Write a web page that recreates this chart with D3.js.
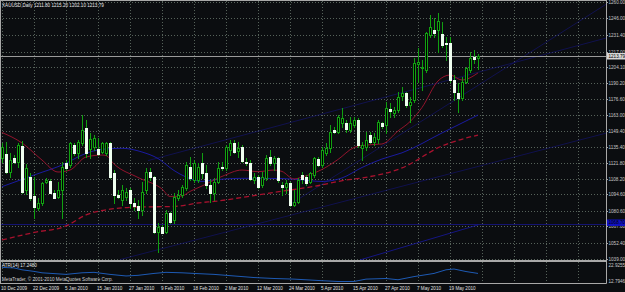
<!DOCTYPE html>
<html>
<head>
<meta charset="utf-8">
<script src="https://cdn.jsdelivr.net/npm/d3@7"></script>
<style>
html, body { margin: 0; padding: 0; background: #0b0d10; }
svg { display: block; }
text { font-family: "Liberation Sans", Arial, sans-serif; font-size: 4.6px; }
</style>
</head>
<body>
<svg></svg>
<script>
const width = 625;
const height = 292;

const symbol = 'XAUUSD,Daily';
const lastQuote = [1211.80, 1215.20, 1202.10, 1213.79];

// bar 0 = 10 Dec 2009, one bar per trading day
const open = [
	1125.5, 1129.0, 1114.1, 1125.5, 1122.7, 1136.2, 1098.3, 1109.2, 1093.2, 1082.8,
	1086.9, 1105.5, 1106.1, 1096.0, 1092.6, 1098.3, 1121.8, 1119.8, 1137.0, 1129.8,
	1138.4, 1151.3, 1133.3, 1135.6, 1133.3, 1131.3, 1129.8, 1138.4, 1113.2, 1094.0,
	1089.7, 1092.6, 1098.3, 1086.9, 1084.6, 1081.1, 1098.3, 1114.1, 1109.8, 1062.5,
	1066.2, 1062.5, 1078.3, 1072.5, 1091.2, 1094.0, 1099.7, 1118.4, 1106.9, 1107.0,
	1121.2, 1112.7, 1102.6, 1095.5, 1105.5, 1118.4, 1117.0, 1132.7, 1139.0, 1131.9,
	1135.6, 1122.7, 1121.2, 1106.9, 1109.2, 1103.0, 1108.3, 1126.4, 1121.2, 1125.5,
	1102.6, 1101.2, 1104.6, 1085.4, 1088.3, 1111.2, 1109.2, 1105.5, 1111.2, 1124.7,
	1119.8, 1129.8, 1134.1, 1149.9, 1148.5, 1155.6, 1155.6, 1149.9, 1154.2, 1158.5,
	1134.1, 1135.6, 1145.6, 1139.9, 1142.0, 1155.7, 1154.2, 1167.7, 1164.3, 1167.1,
	1179.2, 1181.5, 1171.4, 1175.7, 1206.7, 1203.0, 1201.5, 1231.6, 1235.9, 1235.9,
	1232.2, 1225.0, 1224.5, 1192.9, 1181.5, 1177.2, 1191.5, 1201.5, 1212.4, 1211.80
];
const high = [
	1138.4, 1139.9, 1129.8, 1128.4, 1139.0, 1140.7, 1121.0, 1112.7, 1109.8, 1091.2,
	1105.5, 1108.3, 1107.5, 1098.3, 1105.5, 1122.7, 1124.1, 1139.9, 1138.4, 1141.3,
	1162.8, 1158.5, 1147.0, 1145.6, 1142.7, 1139.9, 1139.9, 1139.9, 1115.5, 1098.3,
	1102.6, 1099.7, 1099.7, 1091.2, 1089.7, 1105.5, 1117.0, 1117.0, 1110.4, 1069.7,
	1068.2, 1081.1, 1079.7, 1095.5, 1098.3, 1102.6, 1122.7, 1127.0, 1124.1, 1121.2,
	1129.8, 1119.8, 1106.9, 1108.3, 1122.7, 1122.7, 1137.0, 1141.3, 1141.3, 1139.9,
	1137.0, 1125.5, 1124.1, 1112.7, 1111.2, 1114.1, 1128.4, 1132.7, 1127.6, 1127.0,
	1105.5, 1106.9, 1105.5, 1098.3, 1108.3, 1114.1, 1111.2, 1114.1, 1127.0, 1126.4,
	1135.6, 1138.4, 1154.2, 1152.8, 1162.8, 1168.5, 1158.5, 1161.4, 1161.4, 1159.9,
	1139.9, 1148.5, 1148.5, 1147.0, 1158.5, 1157.1, 1174.3, 1172.9, 1170.0, 1182.9,
	1187.2, 1182.9, 1178.6, 1211.6, 1220.2, 1210.1, 1234.5, 1248.8, 1246.0, 1250.3,
	1243.1, 1230.2, 1230.2, 1197.2, 1190.1, 1195.8, 1204.4, 1217.3, 1218.7, 1215.20
];
const low = [
	1122.7, 1112.7, 1109.8, 1121.2, 1118.4, 1095.5, 1095.0, 1089.7, 1074.0, 1081.1,
	1085.4, 1104.1, 1095.5, 1091.2, 1091.2, 1074.0, 1115.5, 1118.4, 1128.4, 1125.5,
	1137.0, 1127.0, 1125.5, 1132.7, 1128.4, 1129.8, 1128.4, 1108.3, 1086.9, 1091.2,
	1085.4, 1089.7, 1082.6, 1081.1, 1074.0, 1076.8, 1095.5, 1106.9, 1061.1, 1045.3,
	1061.1, 1061.1, 1069.7, 1069.7, 1089.7, 1092.6, 1098.3, 1106.9, 1105.5, 1105.5,
	1108.3, 1099.7, 1088.3, 1089.7, 1104.1, 1115.5, 1115.5, 1128.4, 1129.8, 1127.0,
	1122.7, 1119.8, 1106.9, 1104.1, 1099.7, 1101.2, 1106.9, 1119.8, 1115.5, 1105.5,
	1094.0, 1095.5, 1084.6, 1084.6, 1086.9, 1104.1, 1102.6, 1104.1, 1109.8, 1119.0,
	1118.4, 1128.4, 1131.3, 1147.0, 1147.0, 1152.8, 1148.5, 1148.5, 1152.8, 1135.6,
	1124.1, 1132.7, 1138.4, 1137.0, 1138.5, 1151.4, 1147.1, 1161.4, 1161.4, 1165.7,
	1175.7, 1170.0, 1157.1, 1174.3, 1191.5, 1184.3, 1200.1, 1230.2, 1230.2, 1217.3,
	1221.6, 1210.1, 1191.5, 1175.7, 1165.7, 1175.7, 1190.1, 1200.1, 1207.3, 1202.10
];
const close = [
	1135.6, 1114.1, 1124.1, 1122.7, 1137.0, 1096.9, 1117.0, 1091.2, 1083.4, 1086.9,
	1104.1, 1106.9, 1096.0, 1091.7, 1098.3, 1118.4, 1117.5, 1138.4, 1129.8, 1139.9,
	1149.9, 1129.8, 1141.9, 1142.7, 1129.0, 1138.4, 1139.0, 1109.8, 1094.0, 1092.6,
	1098.3, 1096.9, 1086.9, 1084.6, 1081.1, 1096.9, 1114.1, 1109.8, 1062.5, 1066.8,
	1061.6, 1078.3, 1071.1, 1092.6, 1094.0, 1101.2, 1119.8, 1108.3, 1121.2, 1118.4,
	1113.2, 1102.6, 1096.0, 1105.5, 1117.0, 1117.0, 1135.6, 1138.4, 1131.3, 1134.7,
	1123.5, 1121.2, 1107.8, 1109.8, 1100.6, 1109.8, 1126.1, 1121.2, 1125.5, 1106.9,
	1101.2, 1104.1, 1085.4, 1088.3, 1106.9, 1107.5, 1104.1, 1112.7, 1125.5, 1119.8,
	1132.7, 1134.1, 1148.5, 1148.5, 1161.4, 1159.9, 1150.5, 1155.6, 1158.5, 1137.0,
	1137.0, 1141.3, 1139.9, 1143.5, 1157.1, 1153.4, 1168.6, 1166.3, 1167.1, 1178.6,
	1182.0, 1171.4, 1174.3, 1207.3, 1208.7, 1204.4, 1233.1, 1238.2, 1233.1, 1243.9,
	1223.0, 1223.6, 1192.9, 1182.9, 1177.2, 1191.5, 1203.0, 1211.6, 1210.7, 1213.79
];

const dateLabels = [
	'10 Dec 2009', '22 Dec 2009', '5 Jan 2010', '15 Jan 2010', '27 Jan 2010',
	'9 Feb 2010', '18 Feb 2010', '2 Mar 2010', '12 Mar 2010', '24 Mar 2010',
	'5 Apr 2010', '15 Apr 2010', '27 Apr 2010', '7 May 2010', '19 May 2010'
];
const barsPerLabel = 8;

const priceTicks = [
	1260.00, 1246.00, 1231.40, 1217.00, 1204.10, 1190.20, 1176.60, 1163.00, 1149.40,
	1135.40, 1121.80, 1108.20, 1094.60, 1080.60, 1067.00, 1052.40, 1039.00
];

// moving averages at some bars
const maFastBars = [0, 5, 10, 14, 17, 21, 25, 26, 28, 34, 40, 42, 45, 47, 50, 55, 60, 64, 68, 70, 73, 75, 80, 84, 88, 91, 95, 99, 102, 105, 109, 112, 115, 119];
const maFastValues = [1147.8, 1138.8, 1124.1, 1113.8, 1115.5, 1126.7, 1128.4, 1128.0, 1120.7, 1109.1, 1099.2, 1092.8, 1093.2, 1097.1, 1101.8, 1110.0, 1115.5, 1114.1, 1115.5, 1114.3, 1107.8, 1109.5, 1116.0, 1124.6, 1134.9, 1137.0, 1137.9, 1149.1, 1157.1, 1169.3, 1192.1, 1197.2, 1192.9, 1199.0];

const maSlowBars = [0, 8, 16, 21, 27, 33, 43, 50, 53, 61, 70, 78, 86, 90, 100, 110, 112, 119];
const maSlowValues = [1055.4, 1061.8, 1067.4, 1076.9, 1081.8, 1083.6, 1084.2, 1087.6, 1088.5, 1092.5, 1097.3, 1101.4, 1106.9, 1108.7, 1117.3, 1136.2, 1138.8, 1145.6];

const maMidBars = [0, 8, 16, 20, 25, 30, 35, 39, 43, 46, 50, 53, 61, 70, 75, 80, 85, 90, 95, 100, 110, 119];
const maMidValues = [1101.2, 1111.2, 1121.3, 1128.4, 1133.3, 1134.2, 1131.0, 1125.4, 1115.1, 1109.5, 1105.7, 1107.0, 1108.4, 1108.2, 1107.0, 1105.7, 1108.7, 1117.7, 1125.0, 1130.3, 1147.4, 1162.8];

const lowerBandBars = [89.5, 119];
const lowerBandValues = [1038.2, 1068.3];

// trend lines: [startBar, startPrice, endBar, endPrice]
const trendLines = [
	[36.5, 1123.6, 151, 1229.0],
	[72, 1085.9, 151, 1258.0],
	[29.5, 1038.5, 151, 1147.2]
];
const hLinePrice = 1068.70;

const atrLabel = 'ATR(14) 17.2480';
const atrTicks = [22.9255, 12.7946];
const atrBars = [0, 3, 5, 8, 10, 16, 20, 23, 27, 31, 34, 38, 41, 45, 48, 53, 58, 63, 68, 73, 80, 84, 88, 91, 96, 99, 103, 108, 111, 113, 116, 119];
const atrValues = [21.7, 21.4, 20.2, 19.2, 18.3, 17.3, 18.3, 18.6, 17.3, 16.3, 16.7, 17.9, 18.6, 18.3, 17.9, 17.3, 16.3, 15.3, 14.7, 14.3, 13.3, 12.8, 12.8, 14.3, 14.7, 13.9, 15.9, 17.9, 20.2, 20.7, 19.1, 17.9];

const copyright = 'MetaTrader, \u00a9 2001-2010 MetaQuotes Software Corp.';

const axisX = 606;
const mainBottom = 260;
const subBottom = 283;

const svg = d3.select('svg')
	.attr('width', width)
	.attr('height', height);

svg.append('rect')
	.attr('width', width)
	.attr('height', height)
	.attr('fill', '#0b0d10');

const xScale = d3.scaleLinear().domain([0, 151]).range([2, axisX]);
const yScale = d3.scaleLinear().domain([1039, 1260]).range([259, 2]);
const ySub = d3.scaleLinear().domain([12.7946, 22.9255]).range([281.5, 265.5]);

const px = i => Math.round(xScale(i));
const py = v => Math.round(yScale(v));

const gridColor = '#56625a';

svg.append('defs').append('clipPath').attr('id', 'main-clip')
	.append('rect').attr('x', 0).attr('y', 0).attr('width', axisX).attr('height', mainBottom);

// grid
const vGrid = d3.range(0, 151, barsPerLabel);
svg.append('g').selectAll('line').data(vGrid)
	.enter().append('line')
	.attr('x1', d => px(d) + 0.5)
	.attr('x2', d => px(d) + 0.5)
	.attr('y1', 1)
	.attr('y2', subBottom)
	.attr('stroke', gridColor)
	.attr('stroke-dasharray', '1,2');

svg.append('g').selectAll('line').data(priceTicks)
	.enter().append('line')
	.attr('x1', 0)
	.attr('x2', axisX)
	.attr('y1', d => py(d) + 0.5)
	.attr('y2', d => py(d) + 0.5)
	.attr('stroke', gridColor)
	.attr('stroke-dasharray', '1,2');

const plot = svg.append('g').attr('clip-path', 'url(#main-clip)');

// horizontal line and lower band
plot.append('line')
	.attr('x1', 0).attr('x2', axisX)
	.attr('y1', py(hLinePrice) + 0.5).attr('y2', py(hLinePrice) + 0.5)
	.attr('stroke', '#16168a')
	.attr('stroke-width', 0.8);

plot.append('path')
	.datum(lowerBandBars.map((b, i) => [b, lowerBandValues[i]]))
	.attr('fill', 'none')
	.attr('stroke', '#1818a0')
	.attr('stroke-width', 0.8)
	.attr('d', d3.line().x(d => xScale(d[0])).y(d => yScale(d[1])));

plot.selectAll('.trend').data(trendLines)
	.enter().append('line')
	.attr('class', 'trend')
	.attr('x1', d => xScale(d[0]))
	.attr('y1', d => yScale(d[1]))
	.attr('x2', d => xScale(d[2]))
	.attr('y2', d => yScale(d[3]))
	.attr('stroke', '#141478')
	.attr('stroke-width', 0.6);

// current price line
plot.append('line')
	.attr('x1', 0).attr('x2', axisX)
	.attr('y1', py(lastQuote[3]) + 0.5).attr('y2', py(lastQuote[3]) + 0.5)
	.attr('stroke', '#9a9a9a');

// moving averages
const maLine = d3.line().x(d => xScale(d[0])).y(d => yScale(d[1])).curve(d3.curveMonotoneX);

plot.append('path')
	.datum(maSlowBars.map((b, i) => [b, maSlowValues[i]]))
	.attr('fill', 'none')
	.attr('stroke', '#a8122e')
	.attr('stroke-width', 1.3)
	.attr('stroke-dasharray', '5,3')
	.attr('d', maLine);

plot.append('path')
	.datum(maMidBars.map((b, i) => [b, maMidValues[i]]))
	.attr('fill', 'none')
	.attr('stroke', '#1c1cb0')
	.attr('stroke-width', 0.9)
	.attr('d', maLine);

plot.append('path')
	.datum(maFastBars.map((b, i) => [b, maFastValues[i]]))
	.attr('fill', 'none')
	.attr('stroke', '#a01430')
	.attr('stroke-width', 0.9)
	.attr('d', maLine);

// candles
const bars = d3.range(open.length).map(i => ({
	i, o: open[i], h: high[i], l: low[i], c: close[i]
}));

const candles = plot.selectAll('.candle').data(bars)
	.enter().append('g').attr('class', 'candle');

candles.append('line')
	.attr('x1', d => px(d.i) + 0.5)
	.attr('x2', d => px(d.i) + 0.5)
	.attr('y1', d => py(d.h))
	.attr('y2', d => py(d.l) + 1)
	.attr('stroke', '#11a011');

candles.filter(d => d.c >= d.o).append('rect')
	.attr('x', d => px(d.i) - 0.5)
	.attr('y', d => py(d.c) + 0.5)
	.attr('width', 2)
	.attr('height', d => Math.max(0, py(d.o) - py(d.c)))
	.attr('fill', '#000')
	.attr('stroke', '#11a011');

candles.filter(d => d.c < d.o).append('rect')
	.attr('x', d => px(d.i) - 1)
	.attr('y', d => py(d.o))
	.attr('width', 3)
	.attr('height', d => Math.max(1, py(d.c) - py(d.o) + 1))
	.attr('fill', '#effff0');

// frame
const frameColor = '#a8a8a8';
svg.append('line').attr('x1', 0).attr('x2', axisX + 0.5).attr('y1', 0.5).attr('y2', 0.5).attr('stroke', frameColor);
svg.append('line').attr('x1', axisX + 0.5).attr('x2', axisX + 0.5).attr('y1', 0).attr('y2', subBottom + 0.5).attr('stroke', frameColor);
svg.append('line').attr('x1', 0.5).attr('x2', 0.5).attr('y1', 0).attr('y2', subBottom + 0.5).attr('stroke', frameColor);
svg.append('rect').attr('x', 0).attr('y', mainBottom).attr('width', axisX + 1).attr('height', 2).attr('fill', frameColor);
svg.append('line').attr('x1', 0).attr('x2', axisX + 0.5).attr('y1', subBottom + 0.5).attr('y2', subBottom + 0.5).attr('stroke', frameColor);

// price axis
const axisG = svg.append('g');
axisG.selectAll('line').data(priceTicks)
	.enter().append('line')
	.attr('x1', axisX).attr('x2', axisX + 2)
	.attr('y1', d => py(d) + 0.5).attr('y2', d => py(d) + 0.5)
	.attr('stroke', frameColor);
axisG.selectAll('text').data(priceTicks)
	.enter().append('text')
	.attr('x', axisX + 2.5)
	.attr('y', d => py(d) + 2)
	.attr('fill', '#c8c8c8')
	.text(d => d.toFixed(2));

// price tags
const tag = (price, fill, textFill, dy) => {
	const y = py(price) + dy;
	svg.append('rect')
		.attr('x', axisX + 1).attr('y', y - 3)
		.attr('width', width - axisX - 1).attr('height', 6.5)
		.attr('fill', fill);
	svg.append('text')
		.attr('x', axisX + 2.5).attr('y', y + 1.8)
		.attr('fill', textFill)
		.text(price.toFixed(2));
};
tag(hLinePrice, '#1010c0', '#000', -1.5);
tag(lastQuote[3], '#d6d6d6', '#000', 0);

// ATR sub window
svg.append('path')
	.datum(atrBars.map((b, i) => [b, atrValues[i]]))
	.attr('fill', 'none')
	.attr('stroke', '#1e5ab4')
	.attr('d', d3.line().x(d => xScale(d[0])).y(d => ySub(d[1])));

svg.append('g').selectAll('text').data(atrTicks)
	.enter().append('text')
	.attr('x', axisX + 2.5)
	.attr('y', d => ySub(d) + 1.5)
	.attr('fill', '#c8c8c8')
	.text(d => d.toFixed(4));

svg.append('text').attr('x', 2).attr('y', 267).attr('fill', '#e8e8e8').text(atrLabel);
svg.append('text').attr('x', 2).attr('y', 281).attr('fill', '#d0d0d0').text(copyright);

// time axis
svg.append('g').selectAll('text').data(dateLabels)
	.enter().append('text')
	.attr('x', (d, i) => px(i * barsPerLabel) - 1)
	.attr('y', 290)
	.attr('fill', '#e0e0e0')
	.text(d => d);

// title
svg.append('text')
	.attr('x', 2)
	.attr('y', 7)
	.attr('fill', '#e8e8e8')
	.text(`${symbol}  ${lastQuote.map(v => v.toFixed(2)).join(' ')}`);
</script>
</body>
</html>
